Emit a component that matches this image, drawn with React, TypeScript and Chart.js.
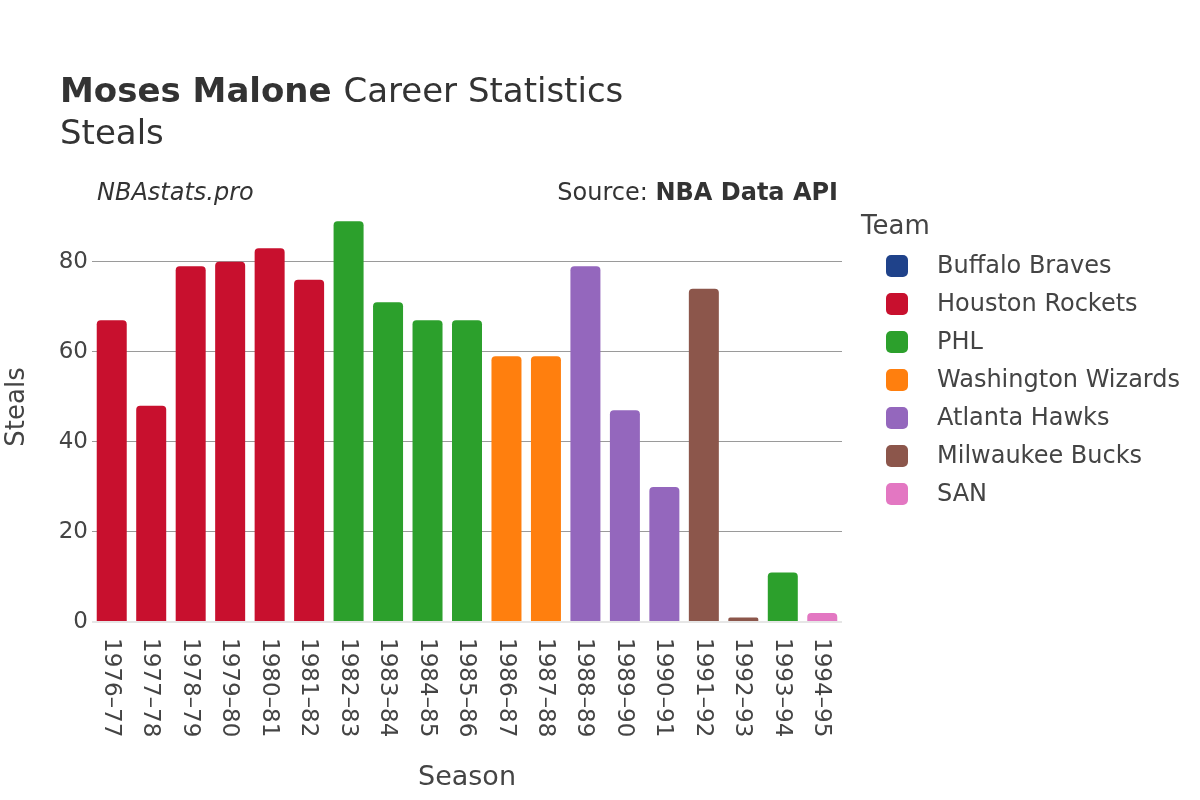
import React, { useEffect, useRef } from "react";
import { Chart, registerables } from "chart.js";

Chart.register(...registerables);

const seasons = [
  "1976–77", "1977–78", "1978–79", "1979–80", "1980–81", "1981–82", "1982–83",
  "1983–84", "1984–85", "1985–86", "1986–87", "1987–88", "1988–89", "1989–90",
  "1990–91", "1991–92", "1992–93", "1993–94", "1994–95",
];

const teams = [
  "Buffalo Braves", "Houston Rockets", "PHL", "Washington Wizards",
  "Atlanta Hawks", "Milwaukee Bucks", "SAN",
];

const teamColors = ["#1f428a", "#c8102e", "#2ca02c", "#ff7f0e", "#9467bd", "#8c564b", "#e377c2"];

// team index per season entry, and steals per season
const seasonTeam = [1, 1, 1, 1, 1, 1, 2, 2, 2, 2, 3, 3, 4, 4, 4, 5, 5, 2, 6];
const steals = [67, 48, 79, 80, 83, 76, 89, 71, 67, 67, 59, 59, 79, 47, 30, 74, 1, 11, 2];
// Buffalo Braves played briefly in 1976–77 with no steals
const buffaloSteals = [0];

const yTicks = [0, 20, 40, 60, 80];

const FONT = "'DejaVu Sans', sans-serif";
const TXT = "#444";

export default function App() {
  const ref = useRef<HTMLCanvasElement | null>(null);

  useEffect(() => {
    if (!ref.current) return;
    const datasets = teams.map((team, ti) => {
      const data = seasons.map((_, si) => {
        if (ti === 0) return si < buffaloSteals.length ? buffaloSteals[si] : null;
        return seasonTeam[si] === ti ? steals[si] : null;
      });
      return {
        label: team,
        data,
        backgroundColor: teamColors[ti],
        borderWidth: 0,
        borderRadius: { topLeft: 4, topRight: 4, bottomLeft: 0, bottomRight: 0 },
        borderSkipped: false as any,
        barPercentage: 0.76,
        categoryPercentage: 1,
      };
    });

    const decor = {
      id: "decor",
      afterDraw(chart: any) {
        const ctx = chart.ctx as CanvasRenderingContext2D;
        const area = chart.chartArea;
        const xs = chart.scales.x;
        ctx.save();
        // title
        ctx.fillStyle = "#333";
        ctx.textBaseline = "alphabetic";
        ctx.textAlign = "left";
        ctx.font = `bold 34px ${FONT}`;
        const bold = "Moses Malone";
        ctx.fillText(bold, 60, 102);
        const bw = ctx.measureText(bold + " ").width;
        ctx.font = `34px ${FONT}`;
        ctx.fillText("Career Statistics", 60 + bw, 102);
        ctx.fillText("Steals", 60, 144);

        // annotations
        ctx.font = `italic 24px ${FONT}`;
        ctx.fillText("NBAstats.pro", 97, 200);
        ctx.textAlign = "right";
        ctx.font = `bold 24px ${FONT}`;
        const src = "NBA Data API";
        ctx.fillText(src, 838, 200);
        const sw = ctx.measureText(src).width;
        ctx.font = `24px ${FONT}`;
        ctx.fillText("Source: ", 838 - sw, 200);

        // x tick labels (rotated clockwise)
        ctx.fillStyle = TXT;
        ctx.font = `23px ${FONT}`;
        seasons.forEach((s, i) => {
          const x = xs.getPixelForValue(i);
          ctx.save();
          ctx.translate(x, area.bottom + 16);
          ctx.rotate(Math.PI / 2);
          ctx.textAlign = "left";
          ctx.textBaseline = "middle";
          ctx.fillText(s, 0, 1);
          ctx.restore();
        });

        // axis titles
        ctx.font = `27px ${FONT}`;
        ctx.textAlign = "center";
        ctx.textBaseline = "middle";
        ctx.fillText("Season", (area.left + area.right) / 2, 778);
        ctx.save();
        ctx.font = `26px ${FONT}`;
        ctx.translate(17, 407);
        ctx.rotate(-Math.PI / 2);
        ctx.fillText("Steals", 0, 0);
        ctx.restore();

        // legend
        ctx.textAlign = "left";
        ctx.font = `26px ${FONT}`;
        ctx.fillText("Team", 861, 227);
        ctx.font = `24px ${FONT}`;
        teams.forEach((t, i) => {
          const cy = 266 + i * 38;
          ctx.fillStyle = teamColors[i];
          ctx.beginPath();
          (ctx as any).roundRect(886, cy - 11, 22, 22, 5);
          ctx.fill();
          ctx.fillStyle = TXT;
          ctx.fillText(t, 937, cy + 1);
        });
        ctx.restore();
      },
    };

    const chart = new Chart(ref.current, {
      type: "bar",
      data: { labels: seasons, datasets },
      options: {
        animation: false,
        responsive: false,
        maintainAspectRatio: false,
        layout: { padding: { left: 0, top: 200, right: 358, bottom: 0 } },
        plugins: { legend: { display: false }, tooltip: { enabled: false }, title: { display: false } },
        scales: {
          x: {
            stacked: true,
            grid: { display: false, drawTicks: false },
            border: { display: false },
            ticks: { display: false },
            afterFit: (s: any) => { s.height = 178; },
          },
          y: {
            stacked: true,
            min: 0,
            max: 93.7,
            afterBuildTicks: (s: any) => {
              s.ticks = yTicks.map((v) => ({ value: v }));
            },
            afterFit: (s: any) => { s.width = 92; },
            border: { display: false },
            grid: {
              drawTicks: false,
              color: (c: any) => (c.tick && c.tick.value === 0 ? "#e6e6e6" : "#9a9a9a"),
              lineWidth: (c: any) => (c.tick && c.tick.value === 0 ? 2 : 1),
            },
            ticks: {
              padding: 4,
              color: TXT,
              font: { family: FONT, size: 23 },
            },
          },
        },
      },
      plugins: [decor],
    });
    return () => chart.destroy();
  }, []);

  return (
    <div style={{ position: "fixed", left: 0, top: 0, width: 1200, height: 800, background: "#fff" }}>
      <canvas ref={ref} width={1200} height={800} style={{ width: 1200, height: 800 }} />
    </div>
  );
}
